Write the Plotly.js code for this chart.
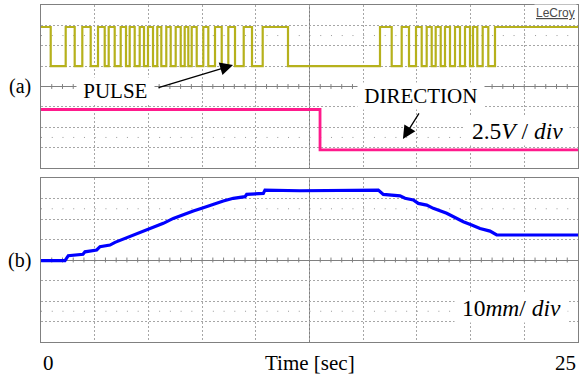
<!DOCTYPE html>
<html>
<head>
<meta charset="utf-8">
<script src="https://cdn.plot.ly/plotly-3.0.1.min.js"></script>
<style>
html,body{margin:0;padding:0;background:#fff;}
#chart{width:579px;height:379px;}
</style>
</head>
<body>
<div id="chart"></div>
<script>
// ---- Data (time in seconds, 2.5 s/div) ----
// PULSE channel: edge times and level after each edge (V)
const pulseTime = [0, 0.452, 1.150, 1.569, 1.923, 2.314, 2.654, 2.966, 3.152, 3.431, 3.710, 3.957,
  4.129, 4.362, 4.595, 4.795, 4.981, 5.214, 5.414, 5.601, 5.833, 6.038, 6.271, 6.504, 6.690, 6.858,
  7.016, 7.249, 7.556, 7.789, 8.101, 8.413, 8.720, 9.032, 9.437, 9.823, 10.321, 11.499,
  15.782, 16.327, 16.792, 17.132, 17.458, 17.723, 17.956, 18.189, 18.375, 18.608, 18.808, 19.041,
  19.274, 19.507, 19.739, 19.972, 20.112, 20.312, 20.563, 20.824, 21.136, 25];
const pulseLevel = [7.3, 2.5, 7.3, 2.5, 7.3, 2.5, 7.3, 2.5, 7.3, 2.5, 7.3, 2.5,
  7.3, 2.5, 7.3, 2.5, 7.3, 2.5, 7.3, 2.5, 7.3, 2.5, 7.3, 2.5, 7.3, 2.5,
  7.3, 2.5, 7.3, 2.5, 7.3, 2.5, 7.3, 2.5, 7.3, 2.5, 7.3, 2.5,
  7.3, 2.5, 7.3, 2.5, 7.3, 2.5, 7.3, 2.5, 7.3, 2.5, 7.3, 2.5,
  7.3, 2.5, 7.3, 2.5, 7.3, 2.5, 7.3, 2.5, 7.3, 7.3];
// DIRECTION channel
const dirTime = [0, 12.99, 25];
const dirLevel = [-2.82, -7.78, -7.78];
// Position (mm, 10 mm/div)
const posTime = [0, 1.117, 1.271, 1.955, 2.048, 2.593, 2.747, 3.212, 3.445, 3.831, 4.297, 4.763,
  5.228, 5.694, 6.159, 6.625, 7.090, 7.556, 8.022, 8.487, 8.953, 9.497, 9.576, 10.349, 10.428,
  12.058, 15.703, 15.936, 16.713, 16.946, 17.332, 17.565, 17.956, 18.263, 18.887, 19.194, 19.660,
  20.051, 20.438, 20.903, 21.215, 25];
const posMm = [-0.3, -0.3, 2.1, 2.8, 4.0, 4.9, 6.5, 7.3, 8.6, 10.2, 12.2, 13.8,
  16.0, 17.9, 20.3, 22.3, 23.9, 25.5, 27.2, 28.8, 30.1, 30.9, 32.0, 32.5, 34.1,
  33.8, 34.1, 32.0, 31.3, 30.1, 29.3, 27.6, 26.8, 25.2, 22.8, 21.1, 18.7,
  17.1, 15.4, 14.1, 12.2, 12.2];
const xLabels = ['0', '25'];

const serif = 'Liberation Serif, Times New Roman, serif';
const gridC = '#a6a6a6', frameC = '#808080';

const traces = [
  {x: pulseTime, y: pulseLevel, type: 'scatter', mode: 'lines', line: {shape: 'hv', color: '#b6b11c', width: 2.2}, xaxis: 'x', yaxis: 'y', hoverinfo: 'skip'},
  {x: dirTime, y: dirLevel, type: 'scatter', mode: 'lines', line: {shape: 'hv', color: '#ff1a8c', width: 2.8}, xaxis: 'x', yaxis: 'y', hoverinfo: 'skip'},
  {x: posTime, y: posMm, type: 'scatter', mode: 'lines', line: {color: '#0000ff', width: 3.2}, xaxis: 'x2', yaxis: 'y2', hoverinfo: 'skip'}
];

function xa(anchor) {
  return {anchor: anchor, domain: [0, 1], range: [0, 25], dtick: 2.5, tick0: 0, showgrid: true,
    gridcolor: gridC, griddash: '2px,2px', gridwidth: 1, showticklabels: false, ticks: '',
    showline: true, linecolor: frameC, linewidth: 1, mirror: true, zeroline: false, fixedrange: true};
}
function ya(anchor, dom, r, dt) {
  return {anchor: anchor, domain: dom, range: r, dtick: dt, tick0: 0, showgrid: true,
    gridcolor: gridC, griddash: '2px,2px', gridwidth: 1, showticklabels: false, ticks: '',
    showline: true, linecolor: frameC, linewidth: 1, mirror: true,
    zeroline: true, zerolinecolor: frameC, zerolinewidth: 1, fixedrange: true};
}

// decorations: center vertical lines, dotted rows, center-line tick marks
const shapes = [];
[['x', 'y', 10, 6.25], ['x2', 'y2', 40, 25]].forEach(([xr, yr, full, dotY]) => {
  shapes.push({type: 'line', xref: xr, yref: yr + ' domain', x0: 12.5, x1: 12.5, y0: 0, y1: 1,
    line: {color: frameC, width: 1}, layer: 'below'});
  [dotY, -dotY].forEach(v => shapes.push({type: 'line', xref: xr, yref: yr, x0: 0, x1: 25, y0: v, y1: v,
    line: {color: '#9a9a9a', width: 1, dash: '1px,9.74px'}, layer: 'below'}));
  const h = full * 0.03;
  for (let k = 1; k < 50; k++) {
    const t = k * 0.5;
    shapes.push({type: 'line', xref: xr, yref: yr, x0: t, x1: t, y0: -h, y1: h,
      line: {color: frameC, width: 1}, layer: 'below'});
  }
});

const txt = (s) => ({family: serif, size: s, color: '#000'});
const annotations = [
  {xref: 'paper', yref: 'y', x: -0.04, y: 0, text: '(a)', showarrow: false, font: txt(20), xanchor: 'center', yanchor: 'middle'},
  {xref: 'paper', yref: 'y2', x: -0.04, y: 0, text: '(b)', showarrow: false, font: txt(20), xanchor: 'center', yanchor: 'middle'},
  {xref: 'x', yref: 'y', x: 3.45, y: -0.6, text: '\u00a0PULSE\u00a0', showarrow: false, font: txt(21), bgcolor: '#fff', borderpad: 1, xanchor: 'center', yanchor: 'middle'},
  {xref: 'x', yref: 'y', x: 17.67, y: -1.2, text: '\u00a0DIRECTION\u00a0', showarrow: false, font: txt(21), bgcolor: '#fff', borderpad: 1, xanchor: 'center', yanchor: 'middle'},
  {xref: 'x', yref: 'y', x: 22.14, y: -5.5, text: '\u00a02.5<i>V</i> / <i>div</i>\u00a0', showarrow: false, font: txt(23.5), bgcolor: '#fff', borderpad: 1, xanchor: 'center', yanchor: 'middle'},
  {xref: 'x2', yref: 'y2', x: 21.88, y: -23.2, text: '\u00a010<i>mm</i>/ <i>div</i>\u00a0', showarrow: false, font: txt(23.5), bgcolor: '#fff', borderpad: 1, xanchor: 'center', yanchor: 'middle'},
  {xref: 'paper', yref: 'y', x: 0.998, y: 9.0, text: '<u>LeCroy</u>', showarrow: false, font: {family: 'Liberation Sans, Arial, sans-serif', size: 12, color: '#4a4a4a'}, bgcolor: '#fff', borderpad: 1, xanchor: 'right', yanchor: 'middle'},
  // arrows
  {xref: 'x', yref: 'y', x: 8.94, y: 2.63, ax: -76, ay: 23, text: '', showarrow: true, arrowhead: 2, arrowsize: 2, arrowwidth: 1.3, arrowcolor: '#000', standoff: 0},
  {xref: 'x', yref: 'y', x: 16.85, y: -6.43, ax: 17, ay: -27, text: '', showarrow: true, arrowhead: 2, arrowsize: 2, arrowwidth: 1.3, arrowcolor: '#000', standoff: 0},
  // axis labels
  {xref: 'x2', yref: 'paper', x: 0, y: -0.062, text: xLabels[0], showarrow: false, font: txt(21), xanchor: 'left', yanchor: 'middle'},
  {xref: 'x2', yref: 'paper', x: 25, y: -0.062, text: xLabels[1], showarrow: false, font: txt(21), xanchor: 'right', yanchor: 'middle'},
  {xref: 'x2', yref: 'paper', x: 12.5, y: -0.062, text: 'Time [sec]', showarrow: false, font: txt(21), xanchor: 'center', yanchor: 'middle'}
];

const layout = {
  width: 579, height: 379,
  margin: {l: 41, r: 1, t: 5, b: 37},
  paper_bgcolor: '#fff', plot_bgcolor: '#fff',
  showlegend: false,
  xaxis: xa('y'),
  yaxis: ya('x', [0.5163, 1], [-10, 10], 2.5),
  xaxis2: xa('y2'),
  yaxis2: ya('x2', [0, 0.4866], [-40, 40], 10),
  shapes: shapes,
  annotations: annotations
};

Plotly.newPlot('chart', traces, layout, {staticPlot: true, displayModeBar: false});
</script>
</body>
</html>
